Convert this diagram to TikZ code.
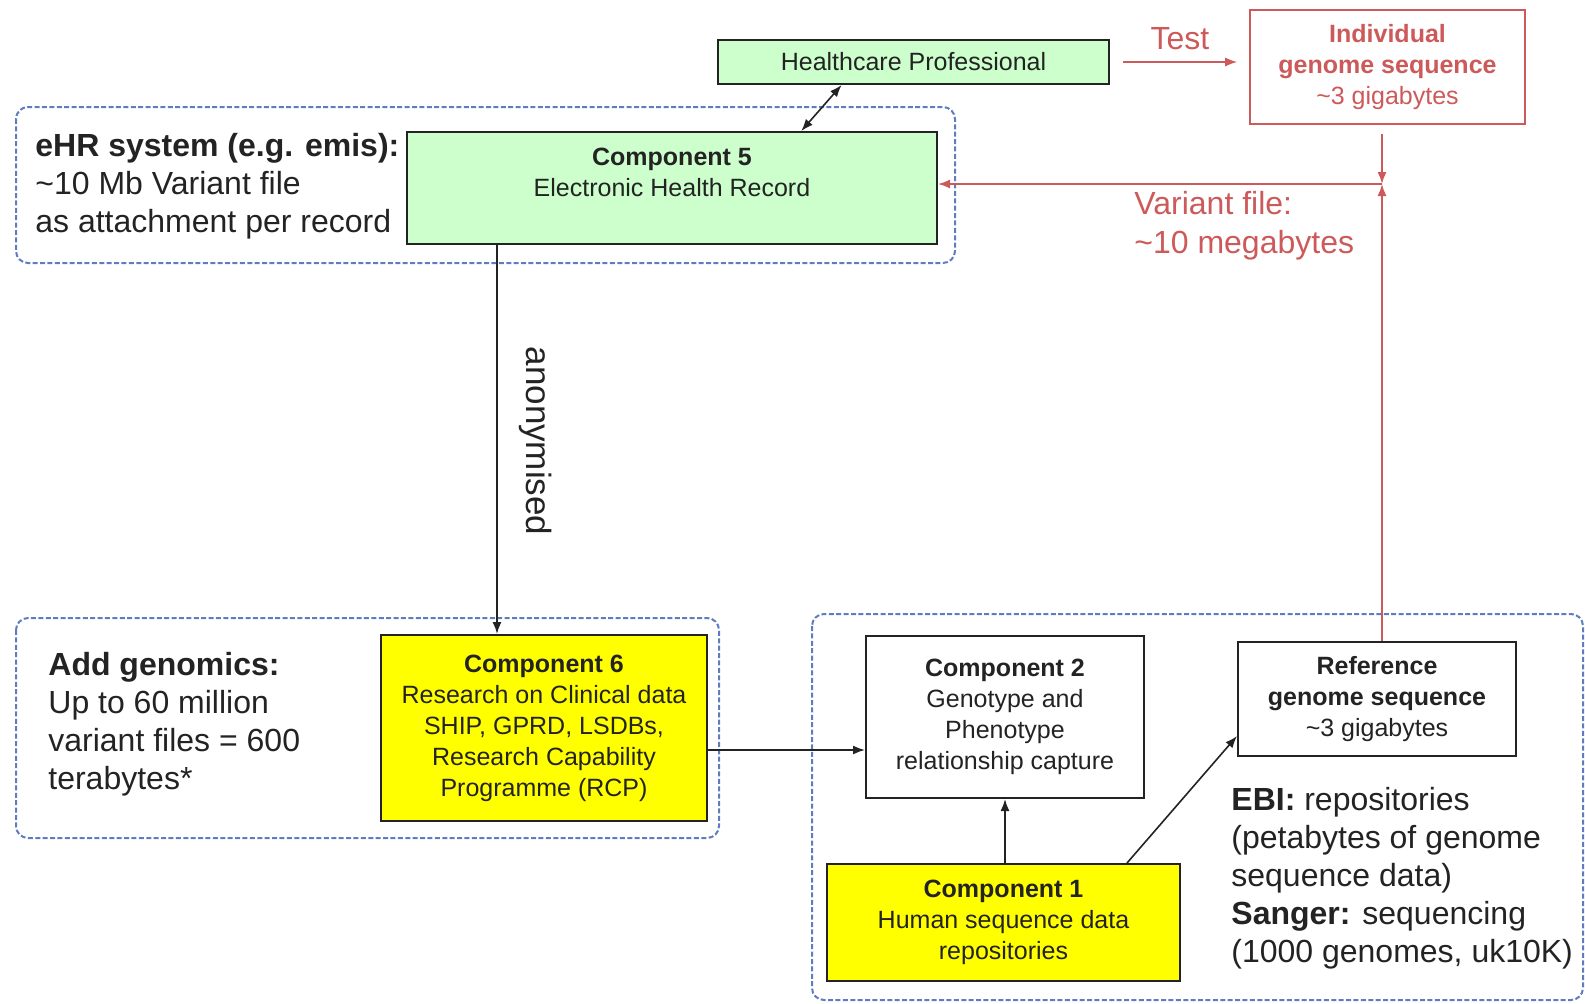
\documentclass[tikz,border=0pt]{standalone}
\usepackage{fontspec}
\setmainfont{Liberation Sans}
\usetikzlibrary{arrows.meta,calc,positioning}
\definecolor{boxgreen}{RGB}{204,255,204}
\definecolor{boxyellow}{RGB}{255,255,0}
\definecolor{linered}{RGB}{205,90,90}
\definecolor{dashblue}{RGB}{95,125,190}
\definecolor{inkgrey}{RGB}{35,35,35}

\begin{document}
\begin{tikzpicture}[x=0.5pt,y=-0.5pt,
  comp/.style={draw=inkgrey, line width=1pt, align=center, inner sep=2pt, text=inkgrey, font=\fontsize{12.5}{15.5}\selectfont},
  redbox/.style={draw=linered, line width=0.8pt, fill=white, align=center, text=linered, font=\fontsize{12.5}{15.5}\selectfont},
  group/.style={draw=dashblue, line width=1pt, dash pattern=on 2.5pt off 1.2pt, rounded corners=6pt},
  bigtext/.style={align=left, anchor=west, inner sep=0pt, text=inkgrey, font=\fontsize{16}{19}\selectfont},
  redtext/.style={text=linered, font=\fontsize{16}{19.5}\selectfont},
  arr/.style={-{Latex[length=6pt,width=4.5pt]}, line width=0.8pt, inkgrey},
  dblarr/.style={{Latex[length=6pt,width=4.5pt]}-{Latex[length=6pt,width=4.5pt]}, line width=0.8pt, inkgrey},
  redarr/.style={-{Latex[length=6pt,width=4.5pt]}, line width=0.8pt, linered}]

  \useasboundingbox (0,0) rectangle (1585,1003);

  % Dashed groups
  \foreach \xa/\ya/\xb/\yb in {16/107/955/263, 16/618/719/838, 812/614/1583/1000} {
    \draw[group] (\xa,\ya) rectangle (\xb,\yb);
  }

  % Boxes
  \node[comp, fill=boxgreen, minimum width=195.5pt, minimum height=22pt] (hp) at (913.5,62) {Healthcare Professional};
  \node[redbox, minimum width=137.5pt, minimum height=57pt] (indiv) at (1387.5,67) {\textbf{Individual}\\\textbf{genome sequence}\\\textasciitilde3 gigabytes};
  \node[comp, fill=boxgreen, minimum width=265pt, minimum height=56pt] (c5) at (672,188) {\textbf{Component 5}\\Electronic Health Record\\\mbox{}};
  \node[comp, fill=boxyellow, minimum width=163pt, minimum height=93pt] (c6) at (544,728) {\textbf{Component 6}\\Research on Clinical data\\SHIP, GPRD, LSDBs,\\Research Capability\\Programme (RCP)};
  \node[comp, fill=white, minimum width=139pt, minimum height=81pt] (c2) at (1005,717) {\textbf{Component 2}\\Genotype and\\Phenotype\\relationship capture};
  \node[comp, fill=white, minimum width=139pt, minimum height=57pt] (ref) at (1377,699) {\textbf{Reference}\\\textbf{genome sequence}\\\textasciitilde3 gigabytes};
  \node[comp, fill=boxyellow, minimum width=176.5pt, minimum height=58.5pt] (c1) at (1003.5,922.5) {\textbf{Component 1}\\Human sequence data\\repositories};

  % Notes
  \node[bigtext] (ehrnote) at (35,186) {\textbf{eHR system (e.g. emis):}\\\textasciitilde10 Mb Variant file\\as attachment per record};
  \node[bigtext] (gennote) at (48,724) {\textbf{Add genomics:}\\Up to 60 million\\variant files = 600\\terabytes*};
  \node[bigtext] (ebinote) at (1231,878) {\textbf{EBI:} repositories\\(petabytes of genome\\sequence data)\\\textbf{Sanger:} sequencing\\(1000 genomes, uk10K)};
  \node[redtext] (test) at (1180,39) {Test};
  \node[redtext, align=left, anchor=west, inner sep=0pt] (varnote) at (1134,226) {Variant file:\\\textasciitilde10 megabytes};
  \node[rotate=-90, text=inkgrey, font=\fontsize{17.5}{20}\selectfont] (anon) at (536,441) {anonymised};

  % Connectors
  \draw[dblarr] ($(hp.south west)!0.317!(hp.south east)$) -- ($(c5.north west)!0.743!(c5.north east)$);
  \draw[redarr] ([xshift=6.5pt]hp.east) -- ([xshift=-6pt]hp.east -| indiv.west);
  \coordinate (vjoin) at (1382,184);
  \draw[redarr, shorten <=4.5pt] (indiv.south -| vjoin) -- (vjoin);
  \draw[redarr] (ref.north -| vjoin) -- (vjoin);
  \draw[redarr] (vjoin) -- (vjoin -| c5.east);
  \draw[arr] ([xshift=45.5pt]c5.south west) -- ([xshift=45.5pt]c5.south west |- c6.north);
  \draw[arr] ([yshift=-11pt]c6.east) -- ([yshift=-11pt]c6.east -| c2.west);
  \draw[arr] (c2.south |- c1.north) -- (c2.south);
  \draw[arr] ([xshift=-27pt]c1.north east) -- ([yshift=10.5pt]ref.south west);

\end{tikzpicture}
\end{document}
